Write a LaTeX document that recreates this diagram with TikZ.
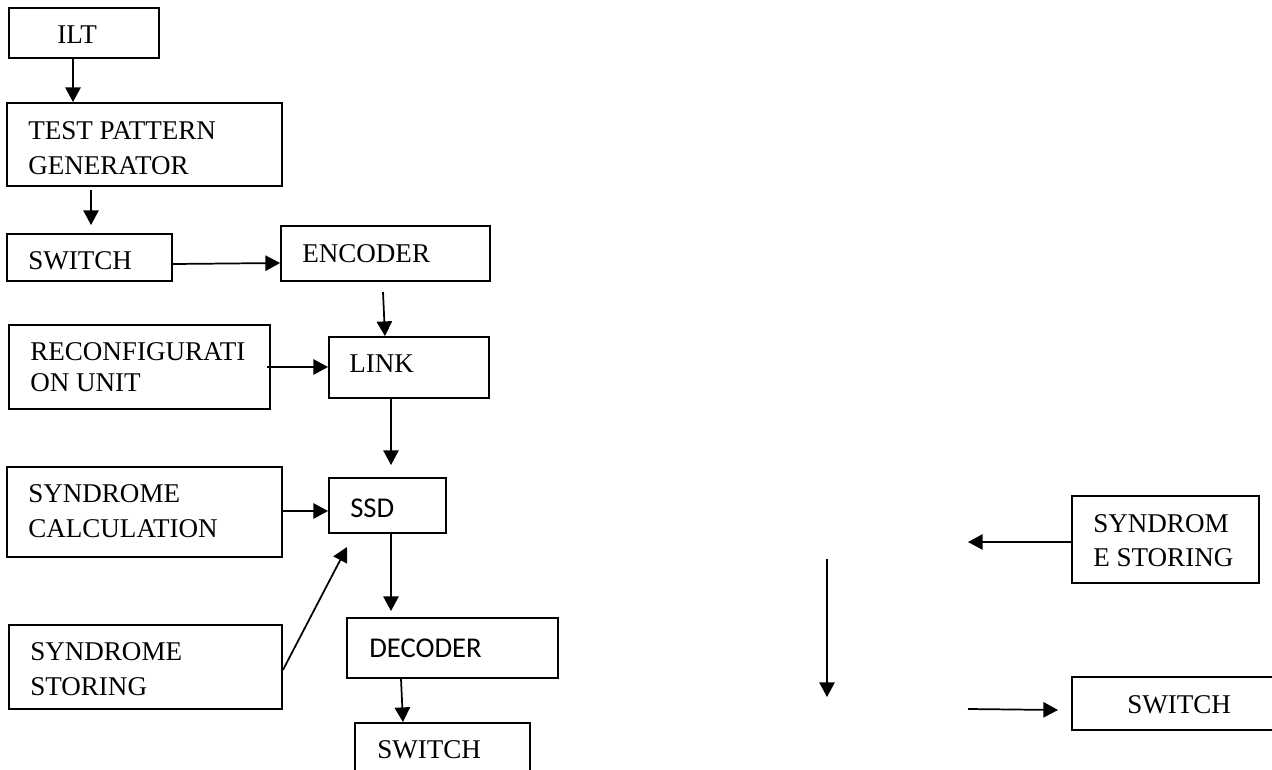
\documentclass[tikz,border=0pt]{standalone}
\usepackage{fontspec}
\setmainfont{Liberation Serif}
\newfontfamily\calib{Carlito}
\usetikzlibrary{arrows.meta,fit}
\begin{document}
\begin{tikzpicture}[x=0.75pt,y=-0.75pt,
  box/.style={draw, line width=1.4pt, inner sep=0pt},
  lbl/.style={anchor=base west, inner sep=0pt, font=\fontsize{20.3pt}{24pt}\selectfont},
  clbl/.style={anchor=base west, inner sep=0pt, font=\calib\fontsize{21.5pt}{26pt}\selectfont},
  arr/.style={-{Triangle[length=11pt,width=11.5pt]}, line width=1.3pt}]
\useasboundingbox (0,0) rectangle (1272,769);
% boxes
\node[box, fit={(9,8) (159,58)}] (ilt) {};
\node[box, fit={(7,103) (282,186)}] (tpg) {};
\node[box, fit={(7,234) (172,281)}] (sw1) {};
\node[box, fit={(281,226) (490,281)}] (enc) {};
\node[box, fit={(9,325) (270,409)}] (rec) {};
\node[box, fit={(329,337) (489,398)}] (link) {};
\node[box, fit={(7,467) (282,557)}] (scalc) {};
\node[box, fit={(329,478) (446,533)}] (ssd) {};
\node[box, fit={(9,625) (282,709)}] (sstor) {};
\node[box, fit={(347,618) (558,678)}] (dec) {};
\node[box, fit={(355,723) (530,790)}] (sw2) {};
\node[box, fit={(1072,496) (1259,583)}] (sstorr) {};
\node[box, fit={(1072,677) (1290,730)}] (sw3) {};
% labels
\node[lbl] (ilt-t) at (57,43) {ILT};
\node[lbl] (tpg-t1) at (28,139) {TEST PATTERN};
\node[lbl] (tpg-t2) at (28,174) {GENERATOR};
\node[lbl] (sw1-t) at (28,269) {SWITCH};
\node[lbl] (enc-t) at (302,262) {ENCODER};
\node[lbl] (rec-t1) at (30,360) {RECONFIGURATI};
\node[lbl] (rec-t2) at (30,391) {ON UNIT};
\node[lbl] (link-t) at (349,372) {LINK};
\node[lbl] (scalc-t1) at (28,502) {SYNDROME};
\node[lbl] (scalc-t2) at (28,537) {CALCULATION};
\node[clbl] (ssd-t) at (350,517) {SSD};
\node[lbl] (sstor-t1) at (30,660) {SYNDROME};
\node[lbl] (sstor-t2) at (30,695) {STORING};
\node[clbl] (dec-t) at (369,657) {DECODER};
\node[lbl] (sw2-t) at (377,758) {SWITCH};
\node[lbl] (sstorr-t1) at (1093,532) {SYNDROM};
\node[lbl] (sstorr-t2) at (1093,566) {E STORING};
\node[lbl] (sw3-t) at (1127,713) {SWITCH};
% free ends
\coordinate (c1) at (91,190);
\coordinate (c2) at (91,225);
\coordinate (c3) at (383,292);
\coordinate (c4) at (391,465);
\coordinate (c5) at (347,547);
\coordinate (c6) at (391,611);
\coordinate (c7) at (968,542);
\coordinate (c8) at (827,559);
\coordinate (c9) at (827,697);
\coordinate (c10) at (968,709);
\coordinate (c11) at (1058,710);
\coordinate (c12) at (267,367);
% connectors
\draw[arr] (ilt.south -| 73,0) -- (tpg.north -| 73,0);
\draw[arr] (c1) -- (c2);
\draw[arr] (sw1.east |- 0,264) -- (enc.west |- 0,263);
\draw[arr] (c3) -- (link.north -| 385,0);
\draw[arr] (c12) -- (link.west |- 0,367);
\draw[arr] (link.south -| 391,0) -- (c4);
\draw[arr] (scalc.east |- 0,511) -- (ssd.west |- 0,511);
\draw[arr] (sstor.east |- 0,670) -- (c5);
\draw[arr] (ssd.south -| 391,0) -- (c6);
\draw[arr] (dec.south -| 401,0) -- (sw2.north -| 403,0);
\draw[arr] (sstorr.west |- 0,542) -- (c7);
\draw[arr] (c8) -- (c9);
\draw[arr] (c10) -- (c11);
\end{tikzpicture}
\end{document}
